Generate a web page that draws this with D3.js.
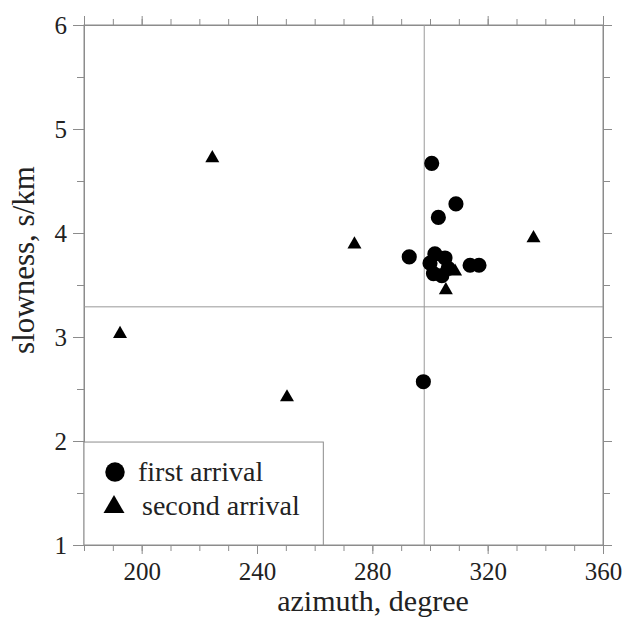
<!doctype html>
<html lang="en">

<head>
  <meta charset="UTF-8">
  <title>slowness vs azimuth</title>
  <style type="text/css">
    * {
      padding: 0;
      margin: 0;
    }

    body {
      background: #fff;
    }

    svg text {
      font-family: "Liberation Serif", "Times New Roman", Times, "DejaVu Serif", serif;
      fill: #222;
    }

    .axis path,
    .axis line {
      stroke: #8c8c8c;
    }

    .axis text {
      font-size: 25px;
    }
  </style>
  <script src="https://cdn.jsdelivr.net/npm/d3@7/dist/d3.min.js"></script>
</head>

<body>
  <svg width="630" height="618"></svg>

  <script>
    // first arrival (circles)
    var firstAzimuth = [300.6, 309.0, 302.9, 292.8, 301.7, 300.0, 305.2, 301.2, 304.1, 306.3, 313.9, 317.0, 297.7];
    var firstSlowness = [4.67, 4.28, 4.15, 3.77, 3.80, 3.71, 3.76, 3.61, 3.59, 3.66, 3.69, 3.69, 2.57];
    // second arrival (triangles)
    var secondAzimuth = [224.5, 273.8, 335.9, 192.5, 250.4, 308.7, 305.5];
    var secondSlowness = [4.72, 3.89, 3.95, 3.03, 2.42, 3.63, 3.45];

    var xTicks = [200, 240, 280, 320, 360];
    var yTicks = [1, 2, 3, 4, 5, 6];
    var refAzimuth = 298;
    var refSlowness = 3.29;
    var legendLabels = ["first arrival", "second arrival"];

    var marge = { top: 25, bottom: 73, left: 84, right: 27 };
    var width = 630 - marge.left - marge.right;
    var height = 618 - marge.top - marge.bottom;

    var svg = d3.select("svg");
    var g = svg.append("g")
      .attr("transform", "translate(" + marge.left + "," + marge.top + ")");

    var xScale = d3.scaleLinear().domain([180, 360]).range([0, width]);
    var yScale = d3.scaleLinear().domain([1, 6]).range([height, 0]);

    var xMinor = d3.range(180, 361, 10);
    var yMinor = d3.range(1, 6.01, 0.5);

    // minor ticks on all four sides
    g.append("g").attr("class", "axis")
      .attr("transform", "translate(0," + height + ")")
      .call(d3.axisBottom(xScale).tickValues(xMinor).tickSize(6).tickFormat(""));
    g.append("g").attr("class", "axis")
      .call(d3.axisTop(xScale).tickValues(xMinor).tickSize(6).tickFormat(""));
    g.append("g").attr("class", "axis")
      .call(d3.axisLeft(yScale).tickValues(yMinor).tickSize(7).tickFormat(""));
    g.append("g").attr("class", "axis")
      .attr("transform", "translate(" + width + ",0)")
      .call(d3.axisRight(yScale).tickValues(yMinor).tickSize(7).tickFormat(""));

    // major ticks with labels
    var xAxis = d3.axisBottom(xScale).tickValues(xTicks).tickSize(9).tickPadding(8)
      .tickSizeOuter(0).tickFormat(d3.format("d"));
    g.append("g").attr("class", "axis")
      .attr("transform", "translate(0," + height + ")")
      .call(xAxis);
    var yAxis = d3.axisLeft(yScale).tickValues(yTicks).tickSize(11).tickPadding(6)
      .tickSizeOuter(0).tickFormat(d3.format("d"));
    g.append("g").attr("class", "axis")
      .call(yAxis);
    g.append("g").attr("class", "axis")
      .attr("transform", "translate(" + width + ",0)")
      .call(d3.axisRight(yScale).tickValues(yTicks).tickSize(9).tickFormat(""));
    g.append("g").attr("class", "axis")
      .call(d3.axisTop(xScale).tickValues(xTicks).tickSize(9).tickFormat(""));

    g.selectAll(".axis").attr("font-family", null);

    // frame
    g.append("rect")
      .attr("width", width)
      .attr("height", height)
      .attr("fill", "none")
      .attr("stroke", "#8c8c8c");

    // reference lines
    g.append("line")
      .attr("x1", xScale(refAzimuth)).attr("x2", xScale(refAzimuth))
      .attr("y1", 0).attr("y2", height)
      .attr("stroke", "#999");
    g.append("line")
      .attr("x1", 0).attr("x2", width)
      .attr("y1", yScale(refSlowness)).attr("y2", yScale(refSlowness))
      .attr("stroke", "#999");

    // legend box
    var legend = g.append("g")
      .attr("transform", "translate(0," + yScale(1.99) + ")");
    legend.append("rect")
      .attr("width", xScale(263) - xScale(180))
      .attr("height", height - yScale(1.99))
      .attr("fill", "#fff")
      .attr("stroke", "#8c8c8c");
    legend.append("path")
      .attr("d", d3.symbol(d3.symbolCircle, 300)())
      .attr("transform", "translate(31,30)");
    legend.append("path")
      .attr("d", d3.symbol(d3.symbolTriangle, 190)())
      .attr("transform", "translate(30,65)");
    legend.selectAll("text")
      .data(legendLabels)
      .enter()
      .append("text")
      .attr("x", function (d, i) { return i === 0 ? 54 : 58; })
      .attr("y", function (d, i) { return 39 + i * 34; })
      .attr("font-size", 28)
      .text(function (d) { return d; });

    // points
    g.selectAll(".first")
      .data(firstAzimuth)
      .enter()
      .append("path")
      .attr("class", "first")
      .attr("d", d3.symbol(d3.symbolCircle, 180)())
      .attr("transform", function (d, i) {
        return "translate(" + xScale(d) + "," + yScale(firstSlowness[i]) + ")";
      })
      .attr("fill", "#000");

    g.selectAll(".second")
      .data(secondAzimuth)
      .enter()
      .append("path")
      .attr("class", "second")
      .attr("d", d3.symbol(d3.symbolTriangle, 85)())
      .attr("transform", function (d, i) {
        return "translate(" + xScale(d) + "," + yScale(secondSlowness[i]) + ")";
      })
      .attr("fill", "#000");

    // axis titles
    svg.append("text")
      .attr("x", 373)
      .attr("y", 611)
      .attr("text-anchor", "middle")
      .attr("font-size", 30)
      .text("azimuth, degree");

    svg.append("text")
      .attr("transform", "translate(34,260) rotate(-90)")
      .attr("text-anchor", "middle")
      .attr("font-size", 31)
      .text("slowness, s/km");
  </script>
</body>

</html>
